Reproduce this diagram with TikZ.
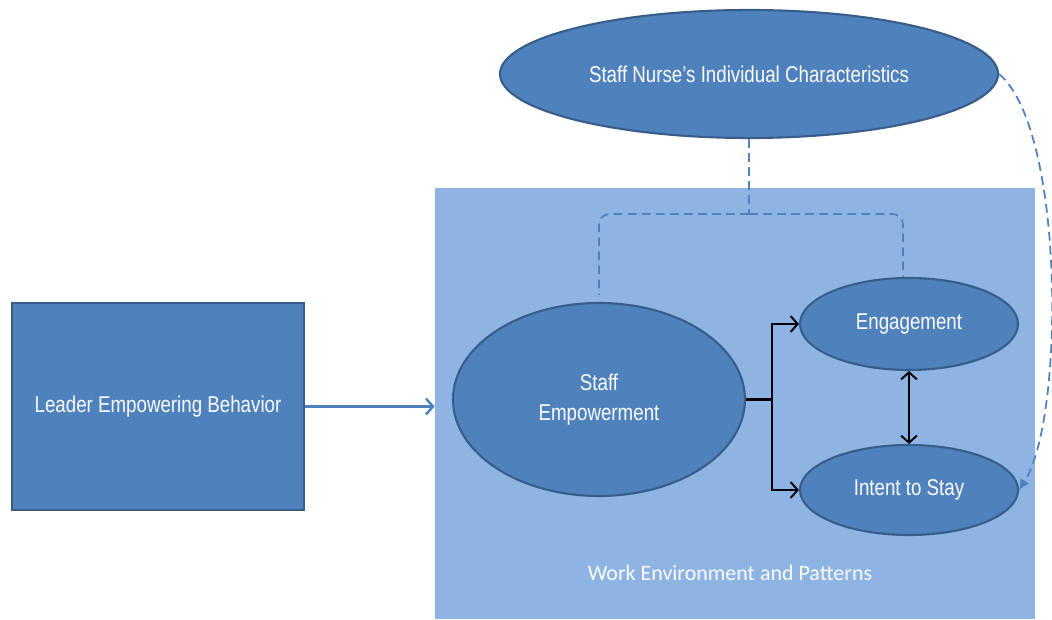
\documentclass[tikz,border=0pt]{standalone}
\usepackage{fontspec}
\setmainfont{Liberation Sans}
\newfontfamily\narrowfont[FakeStretch=0.82]{Liberation Sans}
\newfontfamily\labelfont{Carlito}
\usetikzlibrary{
  arrows.meta,
  positioning,
  shapes.geometric,
  calc
}
\definecolor{nrsblue}{HTML}{4F81BD}
\definecolor{nrsedge}{HTML}{385D8A}
\definecolor{nrslight}{HTML}{8EB4E3}
\definecolor{nrswhite}{HTML}{FAFCFF}

\begin{document}
\begin{tikzpicture}[
      oval/.style={
        ellipse, draw=nrsedge, line width=1.2pt, fill=nrsblue,
        inner sep=0pt, align=center,
        font=\fontsize{13}{17.5}\narrowfont\color{nrswhite}
      },
      box/.style={
        rectangle, draw=nrsedge, line width=1.2pt, fill=nrsblue,
        minimum width=5.84cm, minimum height=4.14cm,
        font=\fontsize{13}{16}\narrowfont\color{nrswhite}, align=center
      },
      region/.style={
        rectangle, fill=nrslight, inner sep=0pt,
        minimum width=12cm, minimum height=8.62cm
      },
      arrow/.style={-{Straight Barb[length=4pt,width=9pt]}, line width=1.1pt, black},
      feed/.style={-{Straight Barb[length=4pt,width=9pt]}, line width=1.4pt, nrsblue},
      dashline/.style={nrsblue, line width=1pt, dash pattern=on 5pt off 3pt},
      label/.style={font=\fontsize{12.5}{15}\labelfont\color{nrswhite}}
    ]
      \useasboundingbox (0,0) rectangle (21.04,12.38);

      % work environment region
      \node[region] (env) at (14.70,4.31) {};
      \node[label] (envlabel) at (14.60,0.92) {Work Environment and Patterns};

      \node[box] (leader) at (3.16,4.25) {Leader Empowering Behavior};
      \node[oval, minimum width=9.96cm, minimum height=2.56cm] (traits) at (14.98,10.90)
        {Staff Nurse’s Individual Characteristics};
      \node[oval, minimum width=5.84cm, minimum height=3.86cm] (empower) at (11.98,4.39)
        {Staff\\Empowerment};
      \node[oval, minimum width=4.36cm, minimum height=1.84cm] (engage) at (18.18,5.90)
        {Engagement};
      \node[oval, minimum width=4.36cm, minimum height=1.80cm] (stay) at (18.18,2.58)
        {Intent to Stay};

      \draw[feed] (leader.east) -- (leader.east -| env.west);

      % outcomes
      \coordinate (split) at (15.44,4.39);
      \draw[line width=1.6pt] (empower.east) -- (split);
      \draw[arrow] (split) |- (engage.west);
      \draw[arrow] (split) |- (stay.west);
      \draw[arrow, {Straight Barb[length=4pt,width=9pt]}-{Straight Barb[length=4pt,width=9pt]}]
        (engage.south) -- (stay.north);

      % moderating paths
      \coordinate (fork) at (14.98,8.10);
      \draw[dashline] (traits.south) -- (fork);
      \draw[dashline, rounded corners=6pt, shorten >=4pt] (fork) -| (empower.north);
      \draw[dashline, rounded corners=6pt] (fork) -| ($(engage.north)+(-0.12,0)$);
      \draw[dashline, -{Latex[length=6pt,width=6pt]}]
        (traits.east) .. controls (21.3,9.8) and (21.3,4.0) .. (stay.east);
    \end{tikzpicture}
\end{document}
